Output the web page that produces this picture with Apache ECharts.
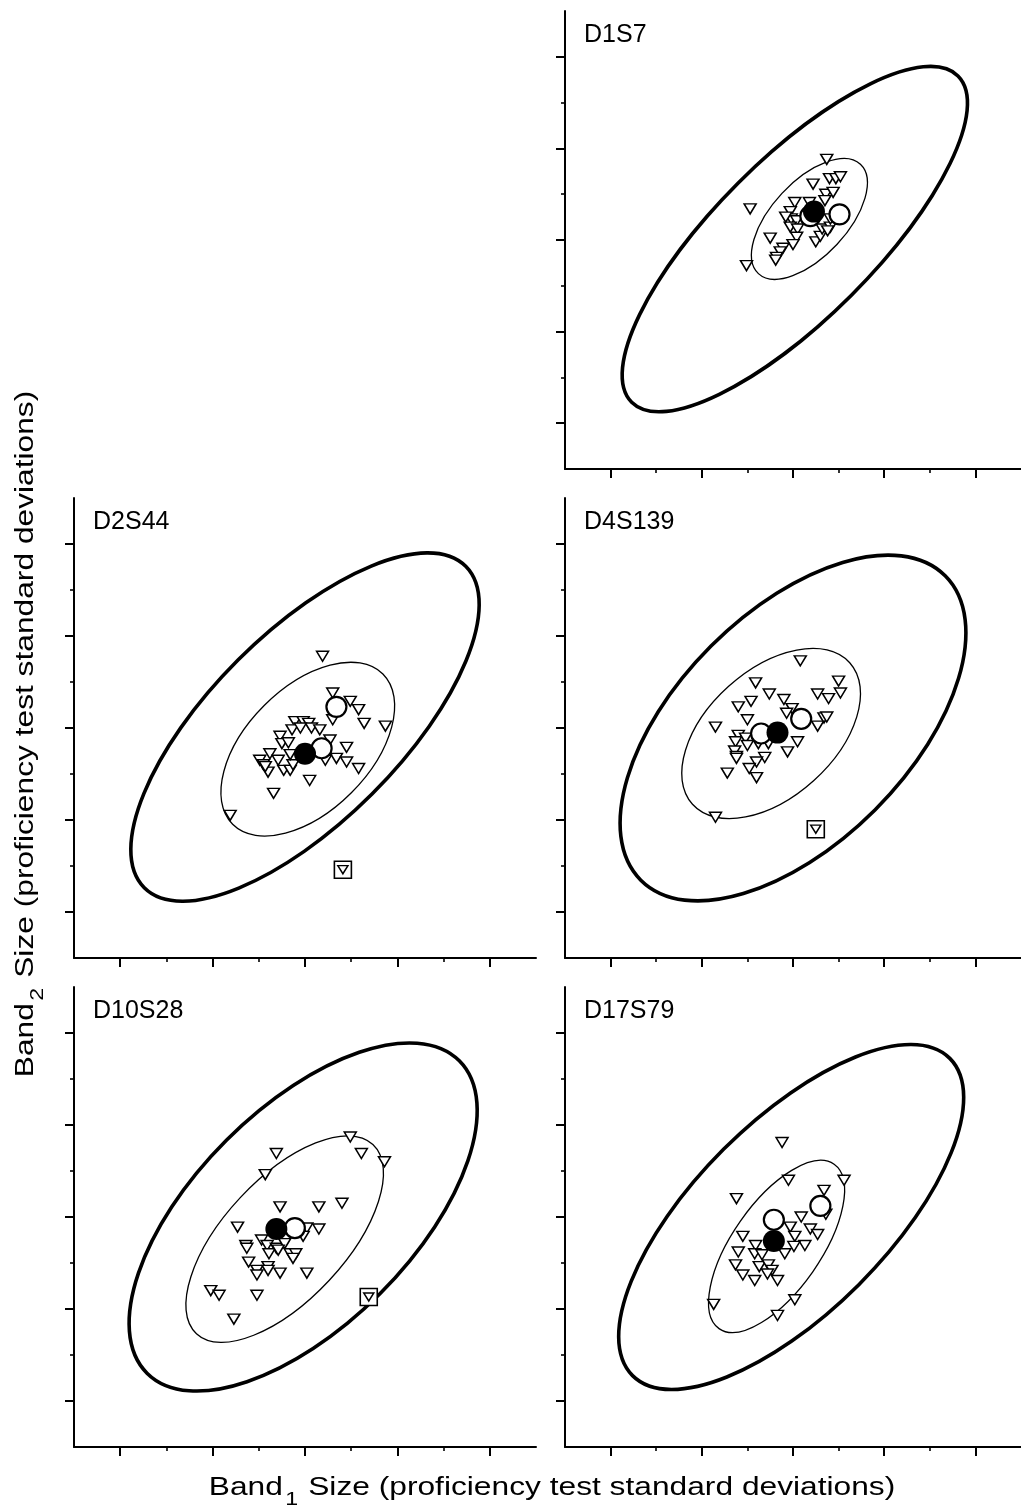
<!DOCTYPE html>
<html>
<head>
<meta charset="utf-8">
<script src="https://cdn.jsdelivr.net/npm/echarts@6/dist/echarts.min.js"></script>
<style>
html,body{margin:0;padding:0;background:#fff;}
#chart{width:1021px;height:1508px;}
</style>
</head>
<body>
<div id="chart"></div>
<script>
// ---------- data (units: proficiency test standard deviations) ----------
const panelNames = ['D1S7', 'D2S44', 'D4S139', 'D10S28', 'D17S79'];
const axisRange = [-2.5, 2.5];
const majorTicks = [-2, -1, 0, 1, 2];
const minorTicks = [-1.5, -0.5, 0.5, 1.5];

// ellipse = [centerX, centerY, semiMajor, semiMinor, angleDeg]
const d1s7Outer = [0.02, 0.01, 2.53, 0.87, 45];
const d1s7Inner = [0.18, 0.23, 0.82, 0.41, 47];
const d1s7Tri = [[0.37,0.88],[-0.47,0.34],[0.22,0.61],[0.40,0.67],[0.47,0.67],[0.52,0.69],[0.36,0.50],[0.44,0.52],[0.35,0.43],[0.02,0.41],[0.18,0.41],[-0.03,0.31],[-0.02,0.23],[0.04,0.21],[-0.03,0.14],[0.05,0.12],[-0.25,0.02],[0.04,0.03],[0.00,-0.05],[0.25,-0.02],[0.30,0.04],[0.32,0.12],[0.41,0.14],[-0.11,-0.09],[-0.14,-0.13],[-0.18,-0.19],[-0.19,-0.22],[-0.51,-0.28],[0.41,0.23],[-0.08,0.25],[0.38,0.10]];
const d1s7Square = [];
const d1s7Open = [[0.19,0.26],[0.51,0.28]];
const d1s7Filled = [[0.23,0.31]];

const d2s44Outer = [0.00, 0.01, 2.46, 1.03, 45];
const d2s44Inner = [0.03, -0.23, 1.15, 0.67, 45];
const d2s44Tri = [[0.19,0.78],[0.30,0.38],[0.49,0.29],[0.58,0.20],[0.64,0.05],[0.30,0.09],[0.87,0.02],[-0.11,0.07],[-0.02,0.07],[0.04,0.05],[-0.14,-0.02],[-0.05,0.00],[0.07,0.00],[0.16,-0.02],[0.27,-0.13],[-0.27,-0.09],[-0.25,-0.17],[-0.38,-0.28],[-0.29,-0.35],[-0.49,-0.35],[-0.45,-0.40],[-0.40,-0.48],[-0.43,-0.42],[-0.23,-0.46],[-0.16,-0.46],[-0.13,-0.40],[0.45,-0.21],[0.34,-0.33],[0.45,-0.37],[0.22,-0.35],[0.05,-0.57],[0.58,-0.44],[-0.34,-0.71],[-0.81,-0.95],[-0.16,-0.29],[-0.18,-0.16]];
const d2s44Square = [[0.41,-1.54]];
const d2s44Open = [[0.34,0.23],[0.18,-0.22]];
const d2s44Filled = [[0.00,-0.28]];

const d4s139Outer = [0.00, 0.00, 2.36, 1.26, 45];
const d4s139Inner = [-0.24, -0.06, 1.16, 0.69, 42];
const d4s139Tri = [[0.08,0.73],[0.50,0.51],[0.52,0.38],[0.27,0.37],[0.39,0.32],[-0.41,0.49],[-0.26,0.37],[-0.10,0.31],[-0.46,0.29],[-0.60,0.23],[-0.01,0.21],[-0.07,0.16],[-0.50,0.09],[0.34,0.11],[0.37,0.12],[0.27,0.02],[-0.85,0.01],[-0.60,-0.08],[-0.63,-0.15],[-0.52,-0.11],[-0.50,-0.19],[-0.38,-0.17],[-0.27,-0.17],[0.05,-0.15],[-0.64,-0.25],[-0.62,-0.31],[-0.62,-0.33],[-0.06,-0.26],[-0.31,-0.32],[-0.40,-0.37],[-0.48,-0.44],[-0.72,-0.49],[-0.40,-0.54],[-0.85,-0.97]];
const d4s139Square = [[0.25,-1.10]];
const d4s139Open = [[-0.35,-0.06],[0.09,0.10]];
const d4s139Filled = [[-0.17,-0.05]];

const d10s28Outer = [-0.02, 0.00, 2.39, 1.18, 45];
const d10s28Inner = [-0.22, -0.24, 1.40, 0.66, 47];
const d10s28Tri = [[0.49,0.87],[-0.31,0.69],[0.61,0.69],[0.86,0.60],[-0.43,0.46],[0.40,0.15],[-0.27,0.11],[0.15,0.11],[0.15,-0.13],[0.02,-0.12],[-0.02,-0.21],[-0.73,-0.11],[-0.47,-0.25],[-0.64,-0.31],[-0.63,-0.34],[-0.41,-0.31],[-0.31,-0.34],[-0.22,-0.29],[-0.39,-0.40],[-0.29,-0.36],[-0.16,-0.40],[-0.10,-0.40],[-0.13,-0.45],[-0.61,-0.49],[-0.52,-0.58],[-0.52,-0.63],[-0.40,-0.54],[-0.40,-0.58],[-0.27,-0.61],[0.02,-0.61],[-1.02,-0.80],[-0.93,-0.85],[-0.52,-0.85],[-0.77,-1.11]];
const d10s28Square = [[0.69,-0.87]];
const d10s28Open = [[-0.11,-0.12]];
const d10s28Filled = [[-0.31,-0.13]];

const d17s79Outer = [-0.02, 0.00, 2.46, 1.04, 45];
const d17s79Inner = [-0.18, -0.32, 1.10, 0.48, 55];
const d17s79Tri = [[-0.12,0.81],[-0.05,0.40],[0.56,0.40],[0.34,0.29],[-0.62,0.20],[0.09,0.00],[-0.03,-0.11],[0.19,-0.13],[0.27,-0.19],[0.02,-0.21],[-0.55,-0.21],[0.13,-0.31],[0.01,-0.32],[-0.41,-0.31],[-0.60,-0.38],[-0.42,-0.40],[-0.09,-0.40],[-0.34,-0.41],[-0.63,-0.52],[-0.37,-0.54],[-0.27,-0.52],[-0.23,-0.58],[-0.28,-0.62],[-0.55,-0.63],[-0.42,-0.69],[-0.17,-0.69],[-0.87,-0.95],[0.02,-0.90],[-0.17,-1.07],[0.36,0.03]];
const d17s79Square = [];
const d17s79Open = [[-0.21,-0.03],[0.30,0.12]];
const d17s79Filled = [[-0.21,-0.26]];

// ---------- layout ----------
const FONT = "'Liberation Sans', Arial, Helvetica, sans-serif";
const grids = [
  {left: 565, top: 11,  width: 462, height: 458},
  {left: 74,  top: 498, width: 462, height: 460},
  {left: 565, top: 498, width: 462, height: 460},
  {left: 74,  top: 987, width: 462, height: 460},
  {left: 565, top: 987, width: 462, height: 460}
];
const panels = [
  {outer: d1s7Outer, inner: d1s7Inner, tri: d1s7Tri, sq: d1s7Square, open: d1s7Open, filled: d1s7Filled},
  {outer: d2s44Outer, inner: d2s44Inner, tri: d2s44Tri, sq: d2s44Square, open: d2s44Open, filled: d2s44Filled},
  {outer: d4s139Outer, inner: d4s139Inner, tri: d4s139Tri, sq: d4s139Square, open: d4s139Open, filled: d4s139Filled},
  {outer: d10s28Outer, inner: d10s28Inner, tri: d10s28Tri, sq: d10s28Square, open: d10s28Open, filled: d10s28Filled},
  {outer: d17s79Outer, inner: d17s79Inner, tri: d17s79Tri, sq: d17s79Square, open: d17s79Open, filled: d17s79Filled}
];

function axis(kind, gi, ticks, len, showLine, tw) {
  return {
    type: 'value', gridIndex: gi, min: axisRange[0], max: axisRange[1], interval: 0.5,
    position: kind === 'x' ? 'bottom' : 'left',
    axisLine: {show: showLine, onZero: false, lineStyle: {color: '#000', width: 2}},
    axisTick: {show: true, inside: false, length: len, customValues: ticks, lineStyle: {color: '#000', width: tw}},
    axisLabel: {show: false},
    splitLine: {show: false},
    minorTick: {show: false}
  };
}

function ellipseSeries(gi, params, lw) {
  return {
    type: 'custom', xAxisIndex: gi * 2, yAxisIndex: gi * 2, z: 2, clip: false,
    data: [params],
    encode: {x: 0, y: 1},
    renderItem: function (p, api) {
      const c = api.coord([api.value(0), api.value(1)]);
      const s = api.size([api.value(2), api.value(3)]);
      return {
        type: 'ellipse', x: c[0], y: c[1], rotation: api.value(4) * Math.PI / 180,
        shape: {cx: 0, cy: 0, rx: s[0], ry: s[1]},
        style: {fill: 'none', stroke: '#000', lineWidth: lw}
      };
    }
  };
}

const xAxes = [], yAxes = [], series = [], graphics = [];
grids.forEach(function (g, i) {
  xAxes.push(axis('x', i, majorTicks, 9, true, 2));
  xAxes.push(axis('x', i, minorTicks, 4, false, 1.6));
  yAxes.push(axis('y', i, majorTicks, 9, true, 2));
  yAxes.push(axis('y', i, minorTicks, 4, false, 1.6));
  const pd = panels[i];
  series.push(ellipseSeries(i, pd.outer, 3.6));
  series.push(ellipseSeries(i, pd.inner, 1.3));
  series.push({type: 'scatter', xAxisIndex: i * 2, yAxisIndex: i * 2, z: 3, data: pd.tri,
    symbol: 'triangle', symbolRotate: 180, symbolSize: [12, 10], silent: true,
    itemStyle: {color: '#fff', borderColor: '#000', borderWidth: 1.5, opacity: 1}});
  series.push({type: 'scatter', xAxisIndex: i * 2, yAxisIndex: i * 2, z: 3, data: pd.sq,
    symbol: 'rect', symbolSize: 17, silent: true,
    itemStyle: {color: '#fff', borderColor: '#000', borderWidth: 1.6, opacity: 1}});
  series.push({type: 'scatter', xAxisIndex: i * 2, yAxisIndex: i * 2, z: 4, data: pd.sq,
    symbol: 'triangle', symbolRotate: 180, symbolSize: [10, 8], silent: true,
    itemStyle: {color: '#fff', borderColor: '#000', borderWidth: 1.5, opacity: 1}});
  series.push({type: 'scatter', xAxisIndex: i * 2, yAxisIndex: i * 2, z: 5, data: pd.open,
    symbol: 'circle', symbolSize: 20, silent: true,
    itemStyle: {color: '#fff', borderColor: '#000', borderWidth: 2.2, opacity: 1}});
  series.push({type: 'scatter', xAxisIndex: i * 2, yAxisIndex: i * 2, z: 6, data: pd.filled,
    symbol: 'circle', symbolSize: 22, silent: true,
    itemStyle: {color: '#000', borderColor: '#000', borderWidth: 0, opacity: 1}});
  graphics.push({type: 'text', x: g.left + 19, y: g.top + 12, z: 10,
    style: {text: panelNames[i], font: '25px ' + FONT, fill: '#000',
      textAlign: 'left', textVerticalAlign: 'top', align: 'left', verticalAlign: 'top'}});
});

const richTitle = {
  n: {fontSize: 26, fontFamily: FONT, color: '#000', lineHeight: 32, verticalAlign: 'top'},
  s: {fontSize: 19, fontFamily: FONT, color: '#000', lineHeight: 19, verticalAlign: 'top', padding: [15, 1, 0, 2]}
};
graphics.push({type: 'text', x: 552, y: 1491, scaleX: 1.22, z: 10,
  style: {text: '{n|Band}{s|1}{n| Size (proficiency test standard deviations)}', rich: richTitle,
    textAlign: 'center', textVerticalAlign: 'middle', align: 'center', verticalAlign: 'middle', fill: '#000'}});
graphics.push({type: 'text', x: 29, y: 734, rotation: Math.PI / 2, scaleX: 1.22, z: 10,
  style: {text: '{n|Band}{s|2}{n| Size (proficiency test standard deviations)}', rich: richTitle,
    textAlign: 'center', textVerticalAlign: 'middle', align: 'center', verticalAlign: 'middle', fill: '#000'}});

const chart = echarts.init(document.getElementById('chart'), null, {renderer: 'canvas'});
chart.setOption({
  animation: false,
  backgroundColor: '#fff',
  grid: grids.map(function (g) { return Object.assign({containLabel: false}, g); }),
  xAxis: xAxes,
  yAxis: yAxes,
  series: series,
  graphic: graphics
});
</script>
</body>
</html>
